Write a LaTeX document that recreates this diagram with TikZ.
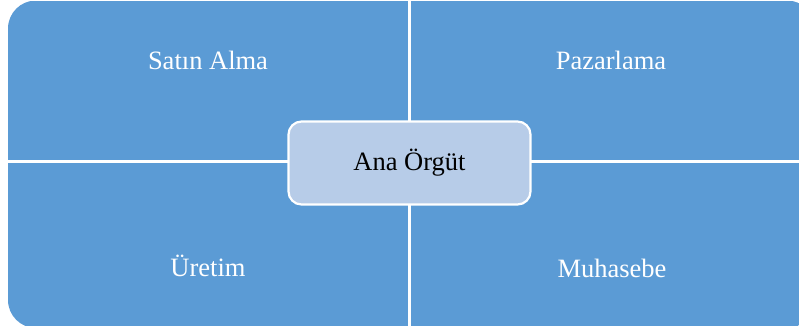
\documentclass[tikz,border=0pt]{standalone}
\usepackage{fontspec}
\setmainfont{Liberation Serif}
\definecolor{quad}{HTML}{5B9BD5}
\definecolor{center}{HTML}{B7CCE8}
\begin{document}
\begin{tikzpicture}[x=1pt,y=-1pt,
  quadtext/.style={text=white,font=\fontsize{26.5}{30}\selectfont},
  quadbox/.style={fill=quad,draw=none,inner sep=0pt,anchor=north west},
  centerbox/.style={fill=center,draw=white,line width=2.2pt,rounded corners=13pt,
    minimum width=242pt,minimum height=83pt,font=\fontsize{26.5}{30}\selectfont,text=black}]
\useasboundingbox (0,0) rectangle (799,325);
\fill[white] (0,0) rectangle (799,325);
\begin{scope}
  \clip[rounded corners=28pt] (8,0.5) rectangle (815,328);
  \node[quadbox,minimum width=400pt,minimum height=159.5pt] (tl) at (8,0.5) {};
  \node[quadbox,minimum width=404pt,minimum height=159.5pt] (tr) at (411,0.5) {};
  \node[quadbox,minimum width=400pt,minimum height=166pt] (bl) at (8,162.5) {};
  \node[quadbox,minimum width=404pt,minimum height=166pt] (br) at (411,162.5) {};
\end{scope}
\node[quadtext] (t1) at (208,60) {Satın Alma};
\node[quadtext] (t2) at (611,60) {Pazarlama};
\node[quadtext] (t3) at (208,266) {Üretim};
\node[quadtext] (t4) at (612,268) {Muhasebe};
\node[centerbox] (c) at (409.5,163) {Ana Örgüt};
\end{tikzpicture}
\end{document}
